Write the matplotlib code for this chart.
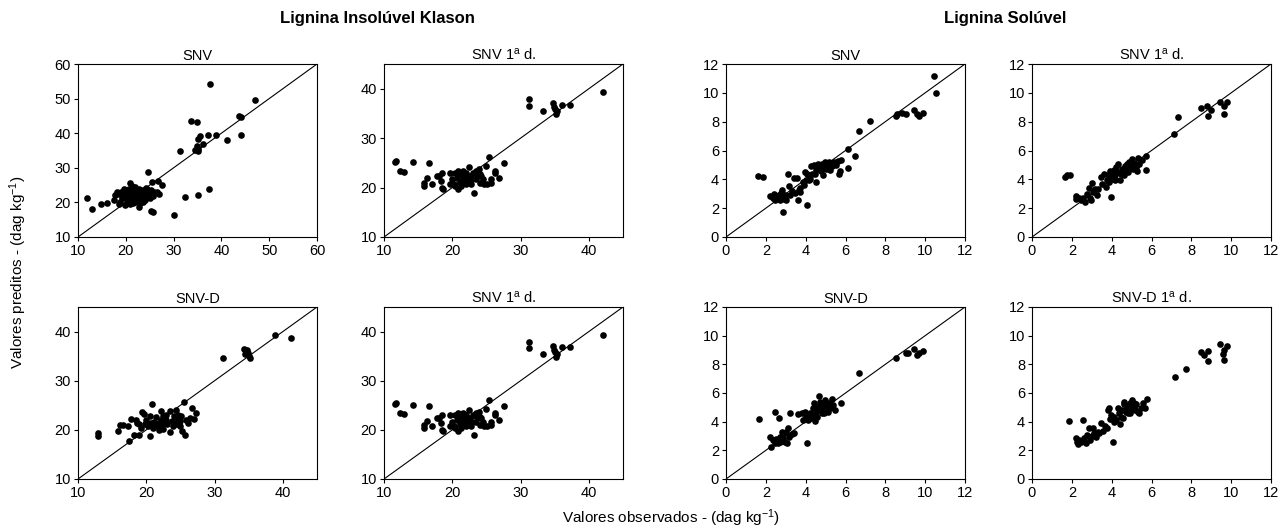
import matplotlib
matplotlib.use("Agg")
import matplotlib.pyplot as plt

plt.rcParams['font.family'] = ['Liberation Sans', 'DejaVu Sans']
plt.rcParams['mathtext.fontset'] = 'custom'
plt.rcParams['mathtext.rm'] = 'Liberation Sans'
plt.rcParams['mathtext.it'] = 'Liberation Sans'
plt.rcParams['mathtext.bf'] = 'Liberation Sans:bold'

# ---------------- Data ----------------
group_titles = ["Lignina Insolúvel Klason", "Lignina Solúvel"]
panel_titles = ["SNV", "SNV 1$^{\\rm a}$ d.", "SNV", "SNV 1$^{\\rm a}$ d.",
                "SNV-D", "SNV 1$^{\\rm a}$ d.", "SNV-D", "SNV-D 1$^{\\rm a}$ d."]

klason_snv_x = [11.8, 13.0, 14.9, 16.0, 17.6, 17.8, 18.5, 18.7, 19.9, 20.8, 24.6, 25.5, 26.8, 27.5, 27.0,
                25.3, 25.6, 22.7, 23.5, 30.0, 31.3, 32.3, 33.6, 34.9, 34.4, 34.8, 35.0, 35.2, 35.6, 35.2,
                36.1, 37.3, 37.6, 37.4, 35.1, 38.8, 41.2, 43.6, 44.1, 44.2, 47.1,
                19.0, 19.5, 19.8, 20.2, 20.5, 20.7, 21.0, 21.0, 21.3, 21.5, 21.7, 21.9, 22.0, 22.2, 22.4,
                22.6, 22.8, 23.0, 23.2, 23.5, 23.8, 24.0, 24.2, 24.5, 24.7, 25.0, 25.3, 25.6, 26.0, 20.0,
                19.3, 18.2, 20.8, 21.5, 22.5, 23.0, 24.5, 25.0, 26.5, 21.2, 20.3, 22.0, 21.6, 23.6, 19.6,
                18.5, 20.9, 22.9, 24.1, 21.8]
klason_snv_y = [21.4, 18.2, 19.6, 19.9, 20.8, 22.0, 19.5, 20.2, 19.3, 25.6, 28.7, 26.0, 26.2, 25.0, 22.4,
                17.5, 17.3, 18.6, 20.2, 16.3, 35.0, 21.6, 43.6, 43.3, 35.1, 36.2, 35.5, 38.2, 39.2, 34.8,
                36.8, 39.5, 54.2, 23.8, 22.1, 39.4, 38.0, 44.9, 44.7, 39.5, 49.6,
                23.0, 22.5, 23.6, 21.5, 22.8, 24.0, 22.0, 20.5, 23.5, 21.0, 22.5, 24.5, 20.0, 21.8, 23.2,
                22.0, 24.0, 21.5, 22.8, 23.5, 21.0, 22.3, 24.3, 21.5, 23.0, 22.0, 23.5, 21.8, 22.9, 22.0,
                21.2, 23.0, 19.5, 19.8, 20.8, 19.8, 24.0, 21.2, 23.0, 24.8, 20.4, 22.8, 21.6, 22.2, 24.0,
                22.5, 21.3, 23.0, 20.6, 20.7]

klason_d1_x = [11.7, 11.6, 12.4, 13.0, 14.3, 16.6, 15.8, 15.9, 16.3, 17.0, 17.7, 18.1, 18.5, 18.4, 18.5, 18.6,
               19.6, 19.9, 20.2, 20.4, 20.7, 20.8, 21.1, 21.2, 21.3, 21.6, 21.8, 22.0, 22.3, 22.4, 22.6,
               22.8, 23.0, 23.2, 23.4, 23.6, 23.9, 24.0, 24.2, 24.5, 24.7, 25.0, 25.1, 25.4, 25.6, 25.7,
               26.2, 26.2, 26.9, 27.6, 20.4, 21.6, 22.0, 22.9, 22.3, 19.6, 20.9, 21.7, 23.5, 24.0,
               31.2, 31.2, 33.3, 34.8, 34.9, 35.0, 35.2, 35.3, 36.1, 37.3, 42.0]
klason_d1_y = [25.4, 25.2, 23.4, 23.2, 25.1, 24.9, 21.0, 20.3, 21.9, 20.7, 22.4, 22.4, 23.0, 21.4, 20.0, 19.7,
               23.0, 21.7, 20.7, 23.0, 22.0, 19.7, 21.1, 22.7, 20.3, 21.7, 22.4, 23.0, 21.4, 24.1, 22.4,
               20.7, 23.0, 18.9, 21.7, 22.4, 23.7, 21.0, 22.4, 21.7, 20.7, 24.3, 20.7, 26.1, 21.7, 21.0,
               23.4, 23.0, 22.0, 24.9, 20.3, 23.4, 20.7, 21.7, 21.7, 20.7, 23.4, 21.0, 23.4, 22.7,
               37.9, 36.6, 35.5, 37.1, 36.2, 35.9, 34.9, 35.5, 36.8, 36.8, 39.4]

klason_snvd_x = [12.9, 12.9, 15.8, 16.1, 16.6, 17.3, 17.4, 17.7, 18.2, 18.5, 18.7, 19.0, 19.4, 19.6, 19.8,
                 20.2, 20.5, 20.6, 20.9, 21.0, 21.2, 21.4, 21.7, 21.8, 22.1, 22.2, 22.4, 22.5, 22.7, 22.9,
                 23.1, 23.4, 23.5, 23.8, 24.0, 24.3, 24.5, 24.7, 24.9, 25.1, 25.3, 25.5, 25.6, 25.8, 26.1,
                 26.4, 26.7, 27.0, 27.3, 20.0, 20.7, 21.4, 22.2, 22.9, 23.9, 24.4, 24.9, 18.9, 19.2,
                 31.3, 34.3, 34.5, 34.7, 34.9, 35.0, 35.2, 38.8, 41.2]
klason_snvd_y = [19.3, 18.8, 19.7, 20.9, 20.9, 20.7, 17.8, 22.3, 19.0, 22.1, 21.4, 19.0, 23.6, 23.3, 21.1,
                 20.7, 18.8, 22.8, 25.2, 20.4, 21.6, 22.7, 21.1, 19.9, 22.1, 23.8, 22.8, 20.1, 21.4, 23.1,
                 21.1, 19.5, 23.8, 21.8, 22.8, 24.1, 21.1, 23.1, 21.8, 22.8, 19.7, 25.6, 18.9, 22.1, 21.4,
                 22.4, 24.4, 22.2, 23.5, 22.1, 21.4, 20.7, 20.7, 22.1, 20.7, 22.1, 20.7, 21.2, 20.4,
                 34.7, 36.5, 35.4, 36.3, 35.6, 35.1, 34.7, 39.3, 38.6]

sol_snv_x = [1.63, 1.85, 2.22, 2.35, 2.47, 2.55, 2.69, 2.76, 2.81, 2.86, 2.89, 2.94, 3.00, 3.11, 3.14, 3.23,
             3.31, 3.39, 3.45, 3.56, 3.60, 3.66, 3.73, 3.87, 3.90, 3.95, 4.02, 4.07, 4.15, 4.24, 4.29, 4.40,
             4.45, 4.50, 4.54, 4.60, 4.66, 4.74, 4.82, 4.87, 4.90, 4.99, 5.04, 5.08, 5.16, 5.21, 5.28, 5.33,
             5.41, 5.50, 5.61, 5.66, 5.71, 5.75, 6.12, 6.13, 6.47, 6.69, 7.23, 8.55, 8.57, 8.86, 9.03, 9.45,
             9.58, 9.70, 9.87, 10.42, 10.54, 4.07, 4.32, 4.57, 4.77, 4.96, 5.13, 3.70, 2.40, 2.64]
sol_snv_y = [4.24, 4.17, 2.82, 2.73, 2.59, 2.78, 2.55, 3.06, 3.29, 1.76, 2.66, 2.89, 2.59, 4.35, 3.54, 2.89,
             3.19, 4.07, 3.06, 4.10, 2.55, 3.24, 3.13, 3.82, 3.59, 4.51, 3.94, 2.22, 3.94, 4.05, 4.93, 4.98,
             4.40, 3.82, 4.63, 5.05, 4.75, 4.86, 5.09, 4.28, 4.98, 5.21, 4.75, 5.05, 5.21, 4.63, 5.09, 4.93,
             5.21, 4.98, 5.28, 4.40, 4.58, 5.32, 4.77, 6.13, 5.65, 7.36, 8.06, 8.38, 8.52, 8.61, 8.50, 8.80,
             8.56, 8.40, 8.61, 11.16, 10.00, 4.40, 4.40, 4.86, 4.58, 4.86, 4.86, 3.43, 3.00, 2.90]

sol_d1_x = [1.64, 1.76, 1.90, 2.21, 2.23, 2.38, 2.47, 2.57, 2.68, 2.77, 2.85, 2.90, 2.97, 3.02, 3.07, 3.15,
            3.24, 3.32, 3.44, 3.52, 3.61, 3.71, 3.78, 3.84, 3.91, 3.94, 3.99, 4.03, 4.08, 4.14, 4.19, 4.24,
            4.28, 4.34, 4.41, 4.45, 4.51, 4.58, 4.65, 4.71, 4.78, 4.83, 4.88, 4.95, 5.00, 5.05, 5.12, 5.18,
            5.25, 5.32, 5.39, 5.54, 5.70, 5.74, 7.13, 7.35, 8.47, 8.81, 8.83, 8.98, 9.43, 9.65, 9.65, 9.78,
            4.19, 4.61, 4.78, 5.03, 5.20, 3.86]
sol_d1_y = [4.17, 4.28, 4.33, 2.82, 2.62, 2.73, 2.55, 2.71, 2.43, 3.01, 3.40, 2.73, 2.59, 3.75, 3.13, 3.36,
            2.89, 3.31, 4.17, 3.70, 4.35, 3.47, 3.94, 4.28, 4.58, 4.17, 2.78, 4.40, 4.05, 4.63, 4.28, 4.86,
            4.51, 5.05, 3.94, 4.40, 4.75, 4.51, 4.91, 4.75, 5.09, 4.51, 5.21, 4.91, 5.44, 4.75, 5.14, 4.98,
            4.58, 5.51, 5.09, 5.32, 4.63, 5.60, 7.11, 8.29, 8.96, 9.07, 8.38, 8.80, 9.33, 9.07, 8.56, 9.37,
            3.94, 4.28, 4.86, 5.21, 4.86, 3.82]

sol_snvd_x = [1.68, 2.47, 2.64, 2.22, 2.27, 2.35, 2.44, 2.52, 2.59, 2.69, 2.72, 2.81, 2.86, 2.92, 2.97, 3.03,
              3.06, 3.11, 3.18, 3.23, 3.31, 3.39, 3.60, 3.82, 3.87, 3.95, 4.02, 4.07, 4.12, 4.20, 4.29, 4.37,
              4.40, 4.44, 4.49, 4.54, 4.60, 4.66, 4.71, 4.77, 4.82, 4.87, 4.94, 4.99, 5.04, 5.11, 5.16, 5.24,
              5.33, 5.38, 5.45, 5.75, 6.69, 8.55, 9.03, 9.16, 9.45, 9.58, 9.70, 9.87,
              4.24, 4.57, 4.91, 5.08, 4.74]
sol_snvd_y = [4.18, 4.69, 4.23, 2.95, 2.20, 2.71, 2.53, 2.76, 2.53, 2.95, 2.60, 3.29, 2.83, 3.18, 2.60, 3.29,
              2.48, 3.53, 2.95, 4.62, 3.13, 3.18, 4.53, 4.58, 4.15, 4.69, 4.34, 2.53, 4.11, 4.34, 4.23, 4.92,
              5.27, 4.46, 4.06, 4.69, 5.04, 5.78, 4.81, 5.04, 4.58, 5.20, 4.85, 5.50, 5.04, 4.69, 5.27, 4.92,
              5.55, 5.15, 4.81, 5.31, 7.40, 8.47, 8.79, 8.79, 9.09, 8.63, 8.79, 8.93,
              4.58, 4.34, 4.58, 5.04, 5.39]

sol_snvd1_x = [1.84, 2.54, 2.21, 2.26, 2.30, 2.38, 2.46, 2.60, 2.71, 2.76, 2.85, 2.93, 3.00, 3.06, 3.13, 3.22,
               3.30, 3.38, 3.47, 3.55, 3.67, 3.77, 3.80, 3.89, 3.94, 3.97, 4.05, 4.10, 4.14, 4.22, 4.30, 4.39,
               4.44, 4.50, 4.56, 4.61, 4.64, 4.71, 4.76, 4.81, 4.86, 4.91, 4.97, 5.04, 5.11, 5.18, 5.24, 5.31,
               5.39, 5.48, 5.56, 5.68, 5.78, 7.19, 7.71, 8.49, 8.63, 8.86, 8.86, 9.46, 9.58, 9.63, 9.66, 9.80,
               4.47, 4.72, 4.94, 5.14]
sol_snvd1_y = [4.06, 4.15, 2.83, 2.60, 2.41, 2.71, 2.60, 2.83, 2.48, 3.06, 3.53, 2.71, 2.99, 3.53, 3.18, 2.95,
               3.29, 3.18, 3.92, 3.36, 3.69, 3.53, 4.78, 4.95, 4.18, 4.48, 2.60, 3.99, 4.34, 4.11, 4.95, 4.58,
               3.87, 4.81, 4.23, 5.22, 5.38, 4.81, 5.08, 4.58, 4.95, 5.27, 4.88, 5.50, 5.04, 4.81, 5.22, 4.69,
               4.58, 4.95, 5.27, 4.92, 5.55, 7.12, 7.70, 8.86, 8.63, 8.93, 8.24, 9.42, 8.75, 8.33, 9.02, 9.30,
               4.34, 4.69, 4.58, 5.27]

klason_lim = [(10, 60), (10, 45), (10, 45), (10, 45)]
klason_ticks = [[10, 20, 30, 40, 50, 60], [10, 20, 30, 40], [10, 20, 30, 40], [10, 20, 30, 40]]
sol_lim = (0, 12)
sol_ticks = [0, 2, 4, 6, 8, 10, 12]

# ---------------- Layout ----------------
W, H = 1286, 528
fig = plt.figure(figsize=(W / 100, H / 100), dpi=100)

col_left = [78, 384, 726, 1032]
col_w = 239
row_top = [64, 307]
row_h = [173, 172]

def make_ax(r, c):
    l = col_left[c] / W
    b = 1 - (row_top[r] + row_h[r]) / H
    return fig.add_axes([l, b, col_w / W, row_h[r] / H])

panels = [
    (0, 0, klason_snv_x, klason_snv_y, klason_lim[0], klason_ticks[0], True),
    (0, 1, klason_d1_x, klason_d1_y, klason_lim[1], klason_ticks[1], True),
    (0, 2, sol_snv_x, sol_snv_y, sol_lim, sol_ticks, True),
    (0, 3, sol_d1_x, sol_d1_y, sol_lim, sol_ticks, True),
    (1, 0, klason_snvd_x, klason_snvd_y, klason_lim[2], klason_ticks[2], True),
    (1, 1, klason_d1_x, klason_d1_y, klason_lim[3], klason_ticks[3], True),
    (1, 2, sol_snvd_x, sol_snvd_y, sol_lim, sol_ticks, True),
    (1, 3, sol_snvd1_x, sol_snvd1_y, sol_lim, sol_ticks, False),
]

tick_fs = 10.5
title_fs = 10.5
for i, (r, c, xs, ys, lim, ticks, diag) in enumerate(panels):
    ax = make_ax(r, c)
    if diag:
        ax.plot(lim, lim, color='black', lw=0.8, zorder=1)
    ax.plot(xs, ys, 'o', color='black', ms=4.8, mew=0, zorder=2, clip_on=False)
    ax.set_xlim(lim)
    ax.set_ylim(lim)
    ax.set_xticks(ticks)
    ax.set_yticks(ticks)
    ax.tick_params(direction='out', length=3, width=0.8, labelsize=tick_fs,
                   top=False, right=False)
    ax.tick_params(axis='x', pad=2)
    ax.tick_params(axis='y', pad=2)
    for s in ax.spines.values():
        s.set_linewidth(0.8)
        s.set_color('black')
    ax.set_title(panel_titles[i], fontsize=title_fs, pad=3)

fig.text(377 / W, 1 - 19 / H, group_titles[0], ha='center', va='center',
         fontsize=12, fontweight='bold')
fig.text(1005 / W, 1 - 19 / H, group_titles[1], ha='center', va='center',
         fontsize=12, fontweight='bold')
fig.text(18 / W, 1 - 272 / H, "Valores preditos - (dag kg$^{-1}$)", rotation=90,
         ha='center', va='center', fontsize=11)
fig.text(671 / W, 1 - 518 / H, "Valores observados - (dag kg$^{-1}$)",
         ha='center', va='center', fontsize=11)

fig.savefig("out.png", dpi=100)
